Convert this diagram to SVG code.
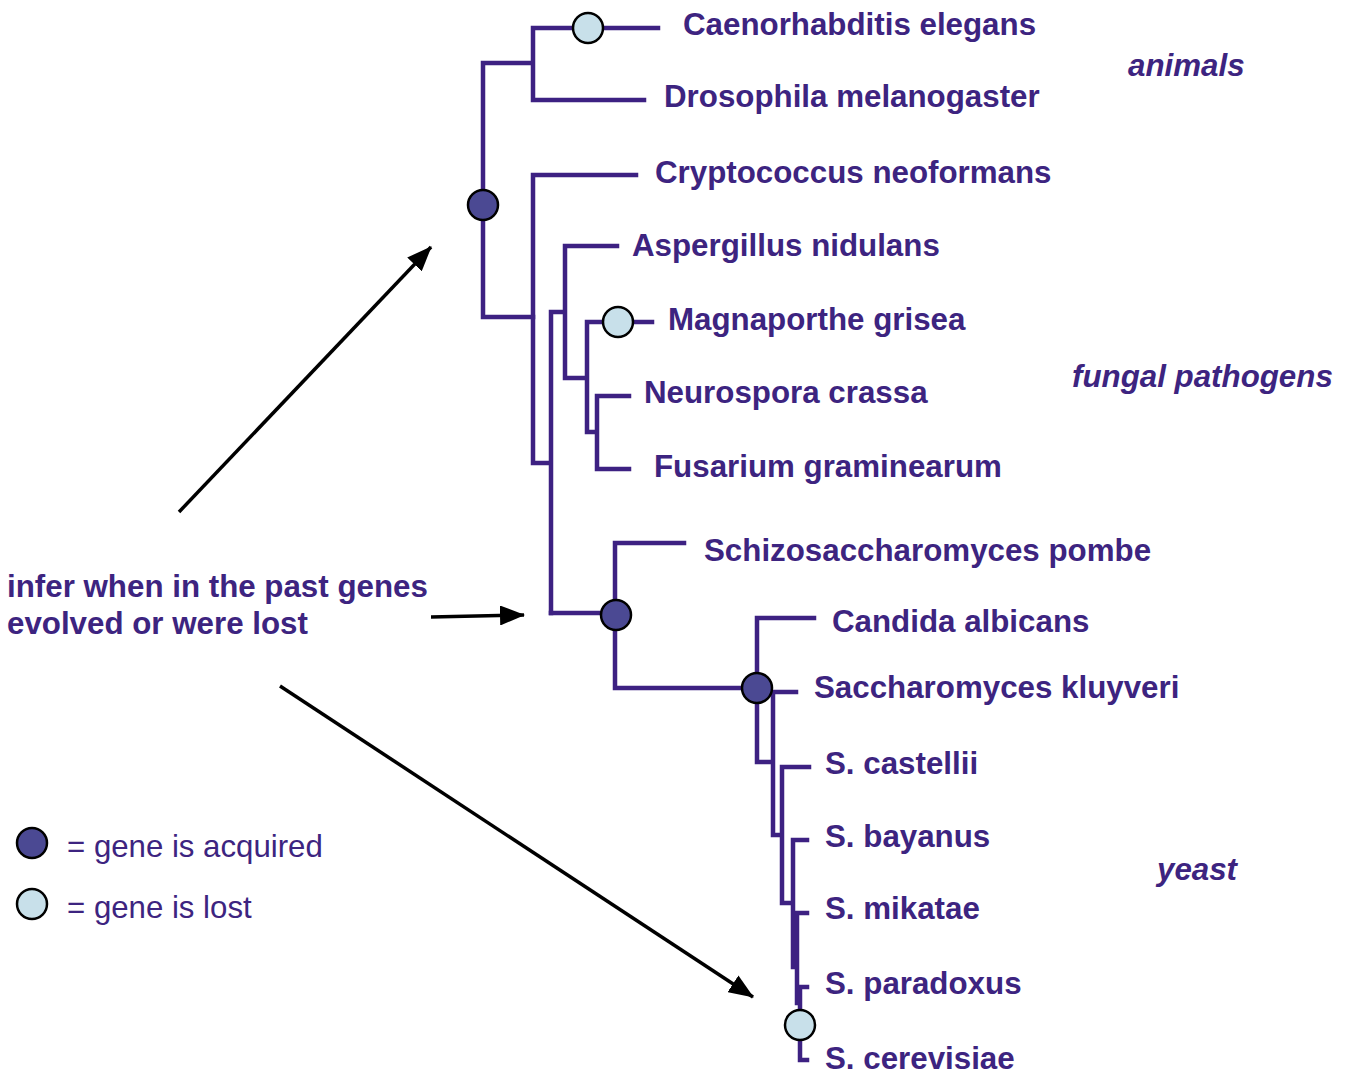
<svg xmlns="http://www.w3.org/2000/svg" width="1349" height="1075" viewBox="0 0 1349 1075">
<defs>
<style>
.br{fill:none;stroke:#3d2182;stroke-width:4.5;stroke-linecap:square}
.lab{font-family:"Liberation Sans",Arial,sans-serif;font-weight:bold;font-size:31.3px;fill:#3d2480}
.grp{font-family:"Liberation Sans",Arial,sans-serif;font-weight:bold;font-style:italic;font-size:31.3px;fill:#3d2480}
.leg{font-family:"Liberation Sans",Arial,sans-serif;font-size:31.2px;fill:#3d2480}
.gain{fill:#4b4993;stroke:#000;stroke-width:2.5}
.loss{fill:#c8e0ea;stroke:#000;stroke-width:2.5}
.arr{fill:none;stroke:#000;stroke-width:3.5}
</style>
<marker id="ah" markerUnits="userSpaceOnUse" markerWidth="26" markerHeight="20" refX="24" refY="10" orient="auto">
<path d="M0,0 L25,10 L0,20 Z" fill="#000"/>
</marker>
</defs>
<rect width="1349" height="1075" fill="#fff"/>

<g id="connectors">
<path class="br" d="M533,28 H658 M533,28 V100 H644 M483,63 H533 M483,63 V317 H533"/>
<path class="br" d="M533,175 H636 M533,175 V463 H551 M551,312 V613 M551,312 H565 M565,246 H617 M565,246 V378 H587 M587,322 H652 M587,322 V432 H597 M597,396 H629 M597,396 V469 H629"/>
<path class="br" d="M551,613 H616 M615,543 H684 M615,543 V688 H757 M757,618 H814 M757,618 V762 H773 M773,692 H796 M773,692 V835 H782 M782,767 H809 M782,767 V903 H793 M793,840 H807 M793,840 V967 H797 M797,913 H807 M797,913 V1003 H800 M800,987 H807 M800,987 V1060 H807"/>
<path class="arr" d="M179,512 L431,247" marker-end="url(#ah)"/>
<path class="arr" d="M431,617 L524,615" marker-end="url(#ah)"/>
<path class="arr" d="M280,686 L753,997" marker-end="url(#ah)"/>
</g>

<g id="events">
<circle id="loss-celegans" class="loss" cx="588" cy="28" r="15"/>
<circle id="gain-root" class="gain" cx="483" cy="205" r="15"/>
<circle id="loss-magnaporthe" class="loss" cx="618" cy="322" r="15"/>
<circle id="gain-yeasts" class="gain" cx="616" cy="615" r="15"/>
<circle id="gain-saccharomycetes" class="gain" cx="757" cy="688" r="15"/>
<circle id="loss-cerevisiae" class="loss" cx="800" cy="1025" r="15"/>
</g>

<g id="taxa">
<text id="t-celegans" class="lab" x="683" y="35">Caenorhabditis elegans</text>
<text id="t-dmel" class="lab" x="664" y="107">Drosophila melanogaster</text>
<text id="t-crypto" class="lab" x="655" y="183">Cryptococcus neoformans</text>
<text id="t-asper" class="lab" x="632" y="256">Aspergillus nidulans</text>
<text id="t-magna" class="lab" x="668" y="330">Magnaporthe grisea</text>
<text id="t-neuro" class="lab" x="644" y="403">Neurospora crassa</text>
<text id="t-fusar" class="lab" x="654" y="477">Fusarium graminearum</text>
<text id="t-pombe" class="lab" x="704" y="561">Schizosaccharomyces pombe</text>
<text id="t-candida" class="lab" x="832" y="632">Candida albicans</text>
<text id="t-kluy" class="lab" x="814" y="698">Saccharomyces kluyveri</text>
<text id="t-cast" class="lab" x="825" y="774">S. castellii</text>
<text id="t-bay" class="lab" x="825" y="847">S. bayanus</text>
<text id="t-mik" class="lab" x="825" y="919">S. mikatae</text>
<text id="t-para" class="lab" x="825" y="994">S. paradoxus</text>
<text id="t-cere" class="lab" x="825" y="1069">S. cerevisiae</text>
</g>

<g id="groups">
<text class="grp" x="1128" y="76">animals</text>
<text class="grp" x="1072" y="387">fungal pathogens</text>
<text class="grp" x="1157" y="880">yeast</text>
</g>

<g id="note">
<text class="lab" x="7" y="597">infer when in the past genes</text>
<text class="lab" x="7" y="634">evolved or were lost</text>
</g>

<g id="legend">
<circle class="gain" cx="32" cy="843" r="15"/>
<text class="leg" x="67" y="857">= gene is acquired</text>
<circle class="loss" cx="32" cy="904" r="15"/>
<text class="leg" x="67" y="918">= gene is lost</text>
</g>
</svg>
